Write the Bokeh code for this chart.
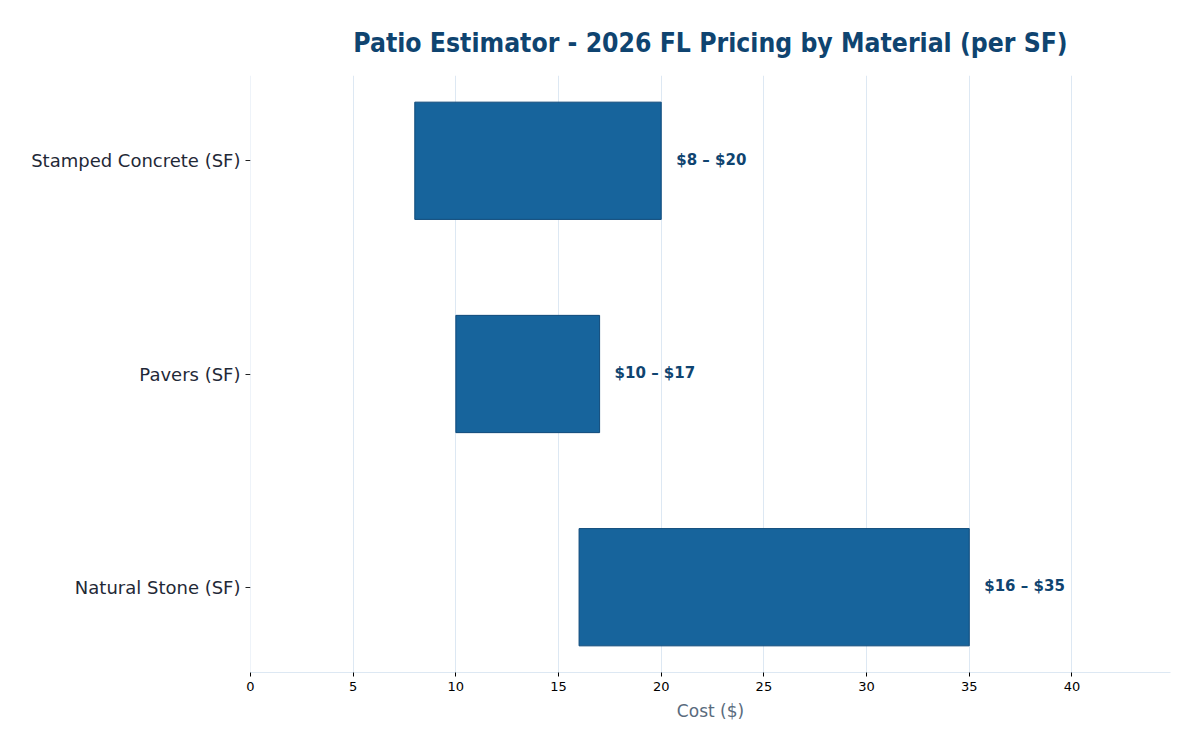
from bokeh.plotting import figure
from bokeh.models import ColumnDataSource, Range1d, FixedTicker, LabelSet, Span
from bokeh.core.properties import value
from bokeh.embed import file_html
from bokeh.resources import INLINE

# Price ranges per square foot, by patio material
materials = ["Stamped Concrete (SF)", "Pavers (SF)", "Natural Stone (SF)"]
low_cost = [8, 10, 16]
high_cost = [20, 17, 35]
x_ticks = [0, 5, 10, 15, 20, 25, 30, 35, 40]

ypos = list(range(1, len(materials) + 1))
labels = [f"${lo} \u2013 ${hi}" for lo, hi in zip(low_cost, high_cost)]

src = ColumnDataSource(dict(y=ypos, lo=low_cost, hi=high_cost, label=labels))

p = figure(width=1200, height=750, output_backend="svg", toolbar_location=None,
           x_range=Range1d(0, 44.8), y_range=Range1d(3.4, 0.6),
           min_border_left=250, min_border_right=30, min_border_top=75, min_border_bottom=78)

GRID = "#dde8f3"
p.add_layout(Span(location=0, dimension="height", line_color=GRID, line_width=1))

p.hbar(y="y", left="lo", right="hi", height=0.55, source=src,
       fill_color="#17649c", line_color="#0f4a7a", line_width=1)

p.add_layout(LabelSet(x="hi", y="y", text="label", source=src, x_offset=15,
                      y_offset=1, text_baseline="middle", text_color="#0f4470",
                      text_font=value("DejaVu Sans"), text_font_style="bold",
                      text_font_size="15px"))

p.title.text = "Patio Estimator - 2026 FL Pricing by Material (per SF)"
p.title.align = "center"
p.title.text_font = "DejaVu Sans Condensed"
p.title.text_font_size = "26.3px"
p.title.text_font_style = "bold"
p.title.text_color = "#0f4470"
p.title.offset = 0
p.title.standoff = 35

p.outline_line_color = None
p.ygrid.grid_line_color = None
p.xgrid.grid_line_color = GRID
p.xgrid.ticker = FixedTicker(ticks=x_ticks)

p.xaxis.ticker = FixedTicker(ticks=x_ticks)
p.xaxis.axis_line_color = GRID
p.xaxis.major_tick_line_color = "#000000"
p.xaxis.major_tick_in = 0
p.xaxis.major_tick_out = 4
p.xaxis.minor_tick_line_color = None
p.xaxis.major_label_text_font = "DejaVu Sans"
p.xaxis.major_label_text_font_size = "13px"
p.xaxis.major_label_text_color = "#000000"
p.xaxis.axis_label = "Cost ($)"
p.xaxis.axis_label_text_font = "DejaVu Sans"
p.xaxis.axis_label_text_font_style = "normal"
p.xaxis.axis_label_text_font_size = "17px"
p.xaxis.axis_label_text_color = "#5a6b7d"
p.xaxis.axis_label_standoff = 7

p.yaxis.ticker = FixedTicker(ticks=ypos)
p.yaxis.major_label_overrides = {i: m for i, m in zip(ypos, materials)}
p.yaxis.axis_line_color = None
p.yaxis.major_tick_line_color = "#222222"
p.yaxis.major_tick_in = 0
p.yaxis.major_tick_out = 5
p.yaxis.minor_tick_line_color = None
p.yaxis.major_label_text_font = "DejaVu Sans"
p.yaxis.major_label_text_font_size = "18px"
p.yaxis.major_label_text_color = "#1f2937"
p.yaxis.major_label_standoff = 5

open("out.html", "w").write(file_html(p, INLINE))
